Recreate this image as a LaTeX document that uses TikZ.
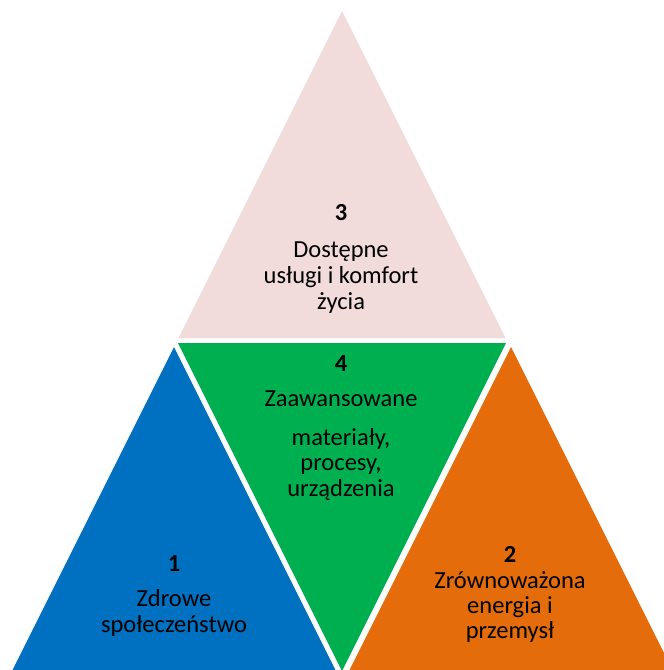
\documentclass[tikz,border=0pt]{standalone}
\usepackage{fontspec}
\setmainfont{Carlito}
\definecolor{tpink}{HTML}{F2DCDB}
\definecolor{tblue}{HTML}{0070C0}
\definecolor{tgreen}{HTML}{00B050}
\definecolor{torange}{HTML}{E46C0A}
\tikzset{
  lbl/.style={inner sep=0pt, anchor=base, text=black, font=\fontsize{24.5}{29}\selectfont},
  num/.style={lbl, font=\fontsize{24.5}{29}\selectfont\bfseries}
}
\begin{document}
\begin{tikzpicture}[x=1pt,y=-1pt]
\useasboundingbox (0,0) rectangle (664,670);
\clip (0,0) rectangle (664,670);
% triangles
\fill[tpink] (342,11) -- (505.5,338) -- (178.5,338) -- cycle;
\fill[tgreen] (178,343) -- (506,343) -- (342,671) -- cycle;
\fill[tblue] (174,347) -- (336,671) -- (12,671) -- cycle;
\fill[torange] (511,347) -- (673,671) -- (349,671) -- cycle;
% texts top
\node[num] (n3) at (341,220) {3};
\node[lbl] (t3a) at (341,257) {Dostępne};
\node[lbl] (t3b) at (341,283) {usługi i komfort};
\node[lbl] (t3c) at (341,309) {życia};
% middle
\node[num] (n4) at (341,371.5) {4};
\node[lbl] (t4a) at (341,406.5) {Zaawansowane};
\node[lbl] (t4b) at (341,445) {materiały,};
\node[lbl] (t4c) at (341,470.5) {procesy,};
\node[lbl] (t4d) at (341,496) {urządzenia};
% left
\node[num] (n1) at (174,571.5) {1};
\node[lbl] (t1a) at (174,606.5) {Zdrowe};
\node[lbl] (t1b) at (174,632) {społeczeństwo};
% right
\node[num] (n2) at (510,562) {2};
\node[lbl] (t2a) at (510,588) {Zrównoważona};
\node[lbl] (t2b) at (510,613) {energia i};
\node[lbl] (t2c) at (510,638.5) {przemysł};
\end{tikzpicture}
\end{document}
